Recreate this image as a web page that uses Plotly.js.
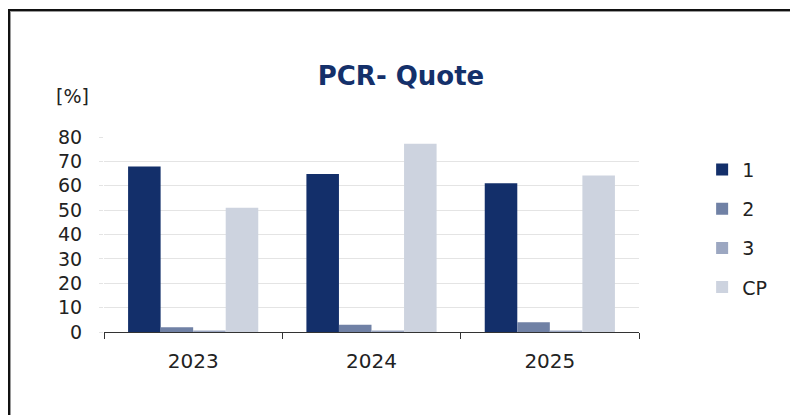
<!DOCTYPE html>
<html>
<head>
<meta charset="utf-8">
<script src="https://cdn.plot.ly/plotly-3.0.1.min.js"></script>
<style>
  html, body { margin: 0; padding: 0; background: #fff; }
  #wrap { position: relative; width: 790px; height: 415px; overflow: hidden; }
  #frame { position: absolute; left: 8px; top: 9px; right: -10px; bottom: -10px;
           border-left: 2px solid #111; border-top: 2px solid #111;
           box-shadow: inset 1px 1px 0 #9a9a9a; pointer-events: none; z-index: 5; }
  #chart { position: absolute; left: 0; top: 0; width: 790px; height: 415px; }
</style>
</head>
<body>
<div id="wrap">
  <div id="chart"></div>
  <div id="frame"></div>
</div>
<script>
const categories = ["2023", "2024", "2025"];
const seriesNames = ["1", "2", "3", "CP"];
const values1 = [67.9, 64.8, 61.0];
const values2 = [1.9, 3.0, 4.0];
const values3 = [0.6, 0.6, 0.6];
const valuesCP = [51.0, 77.2, 64.2];
const yTicks = [0, 10, 20, 30, 40, 50, 60, 70, 80];

const colors = ["#132f6a", "#7081a5", "#9ca7c1", "#cdd3df"];
const allValues = [values1, values2, values3, valuesCP];

const traces = allValues.map((vals, i) => ({
  type: "bar",
  name: seriesNames[i],
  x: categories,
  y: vals,
  legendgroup: "g" + i,
  marker: { color: colors[i], line: { width: 0 } },
  hoverinfo: "x+y+name"
}));

const layout = {
  width: 790,
  height: 415,
  margin: { l: 104, r: 151, t: 137, b: 83 },
  paper_bgcolor: "#ffffff",
  plot_bgcolor: "#ffffff",
  font: { family: "DejaVu Sans, Verdana, sans-serif", color: "#222222" },
  title: {
    text: "<b>PCR- Quote</b>",
    font: { family: "DejaVu Sans, Verdana, sans-serif", size: 26, color: "#14306a" },
    x: 0.5076, xanchor: "center",
    y: 0.818, yanchor: "middle", yref: "container"
  },
  barmode: "group",
  bargap: 0.27,
  bargroupgap: 0,
  xaxis: {
    type: "category",
    showline: true,
    linecolor: "#333333",
    linewidth: 1,
    ticks: "outside",
    tickson: "boundaries",
    ticklen: 6,
    tickcolor: "#333333",
    showgrid: false,
    tickfont: { size: 20, color: "#222222" },
    ticklabelstandoff: 11
  },
  yaxis: {
    range: [0, 80],
    tickvals: yTicks,
    ticktext: yTicks.map(String),
    showline: false,
    zeroline: false,
    showgrid: true,
    gridcolor: "#e4e4e4",
    gridwidth: 1,
    ticks: "outside",
    ticklen: 4,
    tickcolor: "#e4e4e4",
    tickfont: { size: 19, color: "#222222" },
    ticklabelstandoff: 13
  },
  legend: {
    x: 1.118, xanchor: "left",
    y: 0.93, yanchor: "top",
    traceorder: "grouped",
    tracegroupgap: 11.5,
    font: { size: 19, color: "#222222" },
    bgcolor: "rgba(0,0,0,0)"
  },
  annotations: [{
    text: "[%]",
    xref: "paper", yref: "paper",
    x: -0.0598, y: 1.2084,
    xanchor: "center", yanchor: "middle",
    showarrow: false,
    font: { size: 19, color: "#222222" }
  }]
};

Plotly.newPlot("chart", traces, layout, { displayModeBar: false, staticPlot: true });
</script>
</body>
</html>
